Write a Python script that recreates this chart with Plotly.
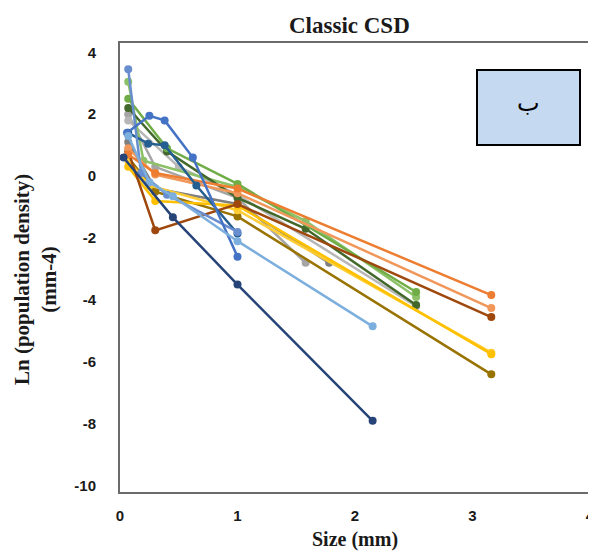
import plotly.graph_objects as go

# ---- data ----
s_navy_x = [0.03, 0.45, 1.0, 2.15]
s_navy_y = [0.6, -1.33, -3.5, -7.9]

s_lblue_x = [0.07, 0.25, 0.45, 1.0, 2.15]
s_lblue_y = [1.3, -0.2, -0.65, -2.1, -4.85]

s_blue_x = [0.06, 0.25, 0.38, 0.62, 1.0]
s_blue_y = [1.4, 1.95, 1.8, 0.6, -2.6]

s_blue2_x = [0.07, 0.18, 0.4, 1.0]
s_blue2_y = [3.45, 0.1, -0.6, -1.8]

s_dblue_x = [0.07, 0.24, 0.38, 0.65, 1.0]
s_dblue_y = [1.4, 1.05, 1.0, -0.3, -1.85]

s_orange_x = [0.07, 0.3, 1.0, 3.16]
s_orange_y = [0.7, 0.1, -0.4, -3.84]

s_lorange_x = [0.07, 0.3, 1.0, 3.16]
s_lorange_y = [0.9, 0.05, -0.55, -4.26]

s_brown_x = [0.07, 0.3, 1.0, 3.16]
s_brown_y = [0.8, -1.75, -0.9, -4.55]

s_gold_x = [0.07, 0.3, 1.0, 3.16]
s_gold_y = [0.3, -0.8, -0.95, -5.75]

s_lgold_x = [0.07, 0.25, 1.0, 3.16]
s_lgold_y = [0.5, -0.3, -1.1, -5.7]

s_dgold_x = [0.07, 0.3, 1.0, 3.16]
s_dgold_y = [0.6, -0.5, -1.3, -6.4]

s_green_x = [0.07, 0.4, 1.0, 2.52]
s_green_y = [2.5, 0.9, -0.25, -3.74]

s_lgreen_x = [0.07, 0.2, 1.0, 1.58, 2.52]
s_lgreen_y = [3.05, 0.5, -0.35, -1.45, -3.9]

s_dgreen_x = [0.07, 0.4, 1.0, 1.58, 2.52]
s_dgreen_y = [2.2, 0.8, -0.7, -1.7, -4.16]

s_gray_x = [0.07, 0.3, 1.0, 1.58]
s_gray_y = [2.0, 0.3, -0.7, -2.8]

s_dgray_x = [0.07, 0.3, 1.0, 1.78]
s_dgray_y = [1.1, -0.4, -0.9, -2.8]

s_lgray_x = [0.07, 0.5, 1.0, 2.52]
s_lgray_y = [1.8, 0.3, -0.6, -4.2]

series = [
    (s_gray_x, s_gray_y, "#A5A5A5"),
    (s_dgray_x, s_dgray_y, "#7F7F7F"),
    (s_lgray_x, s_lgray_y, "#B7B7B7"),
    (s_lgreen_x, s_lgreen_y, "#8CC168"),
    (s_dgreen_x, s_dgreen_y, "#43682B"),
    (s_green_x, s_green_y, "#70AD47"),
    (s_dgold_x, s_dgold_y, "#997300"),
    (s_lgold_x, s_lgold_y, "#FFCD33"),
    (s_gold_x, s_gold_y, "#FFC000"),
    (s_brown_x, s_brown_y, "#9E480E"),
    (s_lorange_x, s_lorange_y, "#F1975A"),
    (s_orange_x, s_orange_y, "#ED7D31"),
    (s_dblue_x, s_dblue_y, "#255E91"),
    (s_blue2_x, s_blue2_y, "#698ED0"),
    (s_blue_x, s_blue_y, "#4472C4"),
    (s_lblue_x, s_lblue_y, "#7CAFDD"),
    (s_navy_x, s_navy_y, "#264478"),
]

x_ticks = [0, 1, 2, 3, 4]
y_ticks = [4, 2, 0, -2, -4, -6, -8, -10]

fig = go.Figure()
for xs, ys, c in series:
    fig.add_trace(go.Scatter(x=xs, y=ys, mode="lines+markers",
                             line=dict(color=c, width=2.5),
                             marker=dict(color=c, size=8),
                             showlegend=False))

serif = "Liberation Serif"
sans = "Liberation Sans"
txt = "#1a1a1a"

OFF = 8  # page body margin of the browser
W, H = 596 - OFF, 553 - OFF
L, R, T, B = 120 - OFF, 590 - OFF, 43 - OFF, 492 - OFF   # plot area in figure pixels


def px(xp):
    return (xp - OFF - L) / (R - L)


def py(yp):
    return (B - (yp - OFF)) / (B - T)


fig.update_layout(
    width=W, height=H,
    paper_bgcolor="white", plot_bgcolor="white",
    margin=dict(l=L, r=W - R, t=T, b=H - B, autoexpand=False),
    xaxis=dict(range=[0, 4], tickvals=x_ticks, ticktext=[f"<b>{v}</b>" for v in x_ticks],
               showgrid=False, zeroline=False, automargin=False,
               showline=True, mirror=True, linecolor="#6b6b6b", linewidth=2,
               tickfont=dict(family=sans, size=15, color=txt),
               ticks="", ticklabelstandoff=9),
    yaxis=dict(range=[-10.2, 4.3], tickvals=y_ticks, ticktext=[f"<b>{v}</b>" for v in y_ticks],
               showgrid=False, zeroline=False, automargin=False,
               showline=True, mirror=True, linecolor="#6b6b6b", linewidth=2,
               tickfont=dict(family=sans, size=15, color=txt),
               ticks="", ticklabelstandoff=19),
    shapes=[dict(type="rect", xref="paper", yref="paper",
                 x0=px(477), x1=px(580), y0=py(145), y1=py(70),
                 fillcolor="#C5D9F1", line=dict(color="black", width=2))],
    annotations=[
        dict(text="ب", xref="paper", yref="paper", x=px(528), y=py(103),
             xanchor="center", yanchor="middle",
             showarrow=False, font=dict(family="DejaVu Sans", size=24, color="black")),
        dict(text="<b>Classic CSD</b>", xref="paper", yref="paper", x=px(349), y=py(25),
             xanchor="center", yanchor="middle", showarrow=False,
             font=dict(family=serif, size=23, color=txt)),
        dict(text="<b>Size (mm)</b>", xref="paper", yref="paper", x=px(355), y=py(539),
             xanchor="center", yanchor="middle", showarrow=False,
             font=dict(family=serif, size=20, color=txt)),
        dict(text="<b>Ln (population density)<br>(mm-4)</b>", xref="paper", yref="paper",
             x=px(35), y=py(280), xanchor="center", yanchor="middle", textangle=-90,
             showarrow=False, font=dict(family=serif, size=21, color=txt)),
    ],
)

fig.write_html("out.html")
